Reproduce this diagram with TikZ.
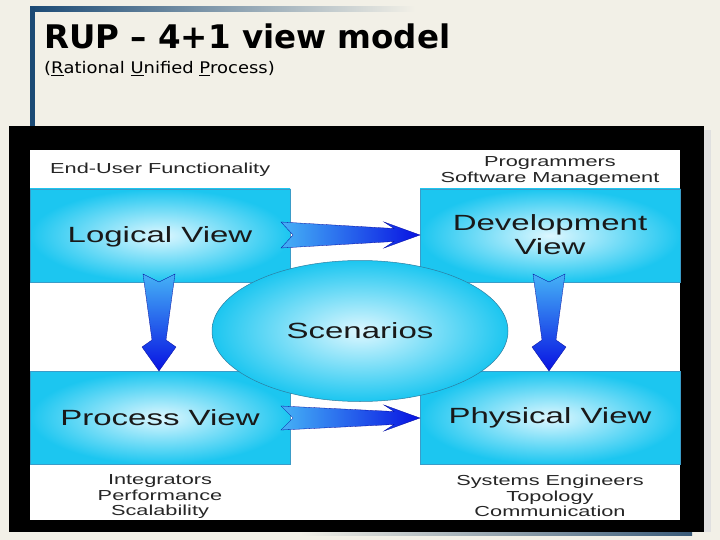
\documentclass[tikz,border=0pt]{standalone}
\usepackage{fontspec}
\newfontfamily\dfont[FakeStretch=1.5]{Liberation Sans}
\newfontfamily\tfont{DejaVu Sans}
\newfontfamily\sfont[FakeStretch=1.12]{DejaVu Sans}
\usetikzlibrary{shapes.geometric}
\definecolor{bg}{HTML}{F2F0E7}
\definecolor{navy}{HTML}{1B4A75}
\definecolor{boxout}{HTML}{1CC6F0}
\definecolor{boxin}{HTML}{DDF7FF}
\definecolor{boxedge}{HTML}{3A9CC8}
\definecolor{arrlight}{HTML}{45B2F6}
\definecolor{arrdark}{HTML}{0812E2}
\tikzset{
  viewbox/.style={draw=boxedge, line width=0.5pt, inner color=boxin, outer color=boxout},
  lbl/.style={font=\dfont\fontsize{22}{24}\selectfont, align=center, text=black!90},
  small/.style={font=\dfont\fontsize{14.5}{15.5}\selectfont, align=center, text=black!85},
  harrow/.style={draw=arrdark!70!black, line width=0.3pt, left color=arrlight, right color=arrdark},
  varrow/.style={draw=arrdark!70!black, line width=0.3pt, top color=arrlight, bottom color=arrdark}
}
\begin{document}
\begin{tikzpicture}[x=1pt,y=-1pt]
\fill[bg] (0,0) rectangle (720,540);
\useasboundingbox (0,0) rectangle (720,540);
% decorations
\shade[left color=navy, right color=bg] (30,7) rectangle (415,12);
\fill[navy] (30,7) rectangle (35,128);
\shade[left color=bg, right color=navy!70!gray] (300,529) rectangle (692,535);
\fill[black!12] (704,130) rectangle (711,532);
% title
\node[anchor=base west, inner sep=0, font=\tfont\bfseries\fontsize{32.5}{35}\selectfont] (title) at (44,49) {RUP – 4+1 view model};
\node[anchor=base west, inner sep=0, font=\sfont\fontsize{16}{18}\selectfont] (sub) at (44,74) {(\underline{R}ational \underline{U}nified \underline{P}rocess)};
% frame
\fill[black] (9,126) rectangle (704,532);
\fill[white] (30,150) rectangle (680,520);
% boxes
\path[viewbox] (30,189) rectangle (290,282);
\path[viewbox] (420,189) rectangle (680,282);
\path[viewbox] (30,371) rectangle (290,464);
\path[viewbox] (420,371) rectangle (680,464);
\node[lbl] (logical) at (160,236.5) {Logical View};
\node[lbl] (devel) at (550,234.5) {Development\\View};
\node[lbl] (process) at (160,418) {Process View};
\node[lbl] (physical) at (550,418) {Physical View};
% arrows
\path[harrow] (281,222) -- (293,235) -- (281,248) -- (394,241.5) -- (384,248) -- (420,235) -- (384,222) -- (394,228.5) -- cycle;
\path[harrow] (281,406) -- (293,418) -- (281,430) -- (394,424.5) -- (384,431) -- (420,418) -- (384,405) -- (394,411.5) -- cycle;
\path[varrow] (143,274) -- (159,282) -- (175,274) -- (166,340) -- (176,347) -- (159,371) -- (142,347) -- (152,340) -- cycle;
\path[varrow] (533,274) -- (549,282) -- (565,274) -- (556,340) -- (566,347) -- (549,371) -- (532,347) -- (542,340) -- cycle;
% ellipse
\node[ellipse, minimum width=296pt, minimum height=141pt, draw=boxedge!80!black, line width=0.5pt, inner color=boxin, outer color=boxout, lbl] (scen) at (360,331) {Scenarios};
% role texts
\node[small, anchor=base west, inner sep=0] (enduser) at (50,174) {End-User Functionality};
\node[small] (prog) at (550,171) {Programmers\\Software Management};
\node[small] (integ) at (160,497) {Integrators\\Performance\\Scalability};
\node[small] (syseng) at (550,496) {Systems Engineers\\Topology\\Communication};
\end{tikzpicture}
\end{document}
